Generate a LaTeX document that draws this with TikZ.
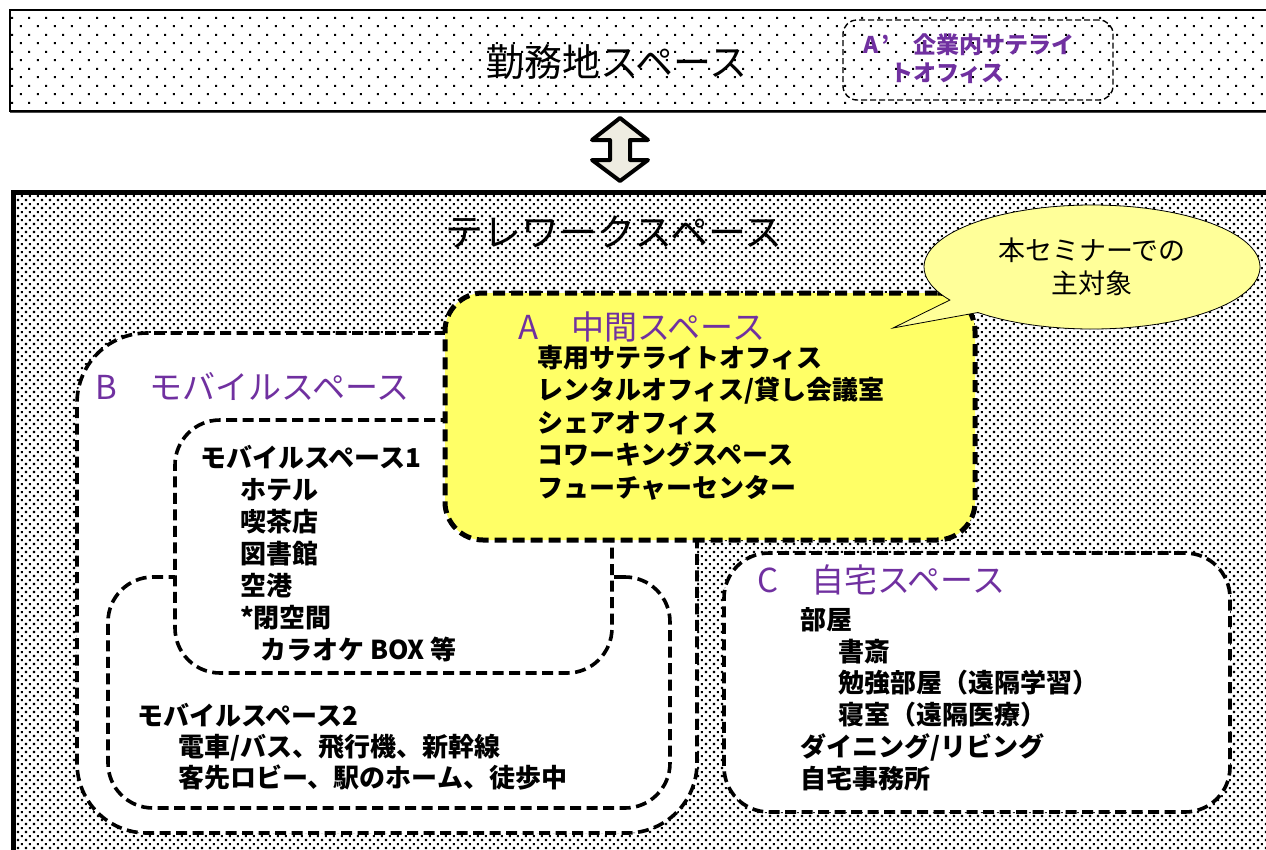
\documentclass[tikz,border=0pt]{standalone}
\usepackage{fontspec}
\setmainfont{Noto Sans CJK JP}
\usetikzlibrary{positioning,patterns.meta,shapes.callouts}

\definecolor{labelpurple}{HTML}{7030A0}
\definecolor{midyellow}{HTML}{FFFF66}
\definecolor{bubbleyellow}{HTML}{FFFF99}
\definecolor{arrowgrey}{HTML}{EEECE1}

\tikzdeclarepattern{
  name=sparsedots,
  type=uncolored,
  bounding box={(0pt,0pt) and (16.7pt,16.7pt)},
  tile size={(16.7pt,16.7pt)},
  code={
    \pgfpathrectangle{\pgfpoint{3pt}{3pt}}{\pgfpoint{1.9pt}{1.9pt}}
    \pgfpathrectangle{\pgfpoint{11.35pt}{11.35pt}}{\pgfpoint{1.9pt}{1.9pt}}
    \pgfusepath{fill}
  }
}
\tikzdeclarepattern{
  name=densedots,
  type=uncolored,
  bounding box={(0pt,0pt) and (8.3pt,8.3pt)},
  tile size={(8.3pt,8.3pt)},
  code={
    \pgfpathrectangle{\pgfpoint{1pt}{1pt}}{\pgfpoint{2.3pt}{2.3pt}}
    \pgfpathrectangle{\pgfpoint{5.15pt}{5.15pt}}{\pgfpoint{2.3pt}{2.3pt}}
    \pgfusepath{fill}
  }
}

\begin{document}
\begin{tikzpicture}[x=1pt, y=-1pt,
  spacebox/.style = {draw, line width=3.6pt, dash pattern=on 11pt off 5.5pt, rounded corners=45pt, fill=white, inner sep=0pt},
  midbox/.style = {spacebox, line width=5pt, dash pattern=on 12pt off 6pt, rounded corners=38pt, fill=midyellow},
  bigtitle/.style = {font=\fontsize{38}{40}\selectfont},
  head/.style = {anchor=west, inner sep=0pt, text=labelpurple, font=\fontsize{33}{36}\selectfont},
  items/.style = {anchor=north west, inner sep=0pt, align=left, font=\bfseries\fontsize{26}{32.5}\selectfont}]
\useasboundingbox (0,0) rectangle (1266,849);

% work space
\node[draw, line width=1.2pt, pattern=sparsedots, minimum width=1290, minimum height=101, inner sep=0pt] (work) at (655,60.5) {};
\draw[line width=1.5pt, black!70] (10,112.5) -- (1300,112.5);
\node[bigtitle] (worklabel) at (617,62) {勤務地スペース};
\node[draw, line width=1.4pt, dash pattern=on 6pt off 3pt, rounded corners=14pt, minimum width=270, minimum height=80, inner sep=0pt] (satellite) at (978,60) {};
\node[anchor=north west, inner sep=0pt, align=left, text=labelpurple, font=\bfseries\fontsize{23}{28}\selectfont] (satlabel) at (863,33) {A\hspace{3pt}’\hspace{24pt}企業内サテライ\\\hspace*{27pt}トオフィス};

% double arrow
\draw[line width=4pt, line join=round, fill=arrowgrey]
  (620,118) -- (648,140) -- (630,140) -- (630,160) -- (648,160) -- (620,181)
  -- (592,160) -- (610,160) -- (610,140) -- (592,140) -- cycle;

% telework space
\node[draw, line width=4.5pt, pattern=densedots, minimum width=1300, minimum height=700, inner sep=0pt, anchor=north west] (tele) at (11,190) {};
\node[bigtitle] (telelabel) at (614,232) {テレワークスペース};

% B mobile space
\node[spacebox, rounded corners=70pt, minimum width=620, minimum height=500] (mobile) at (387,583) {};
\node[spacebox, minimum width=562, minimum height=231] (mobiletwo) at (389,692.5) {};
\node[spacebox, minimum width=437, minimum height=253] (mobileone) at (393.5,546.5) {};

% A middle space
\node[midbox, minimum width=530, minimum height=247] (middle) at (710,416.5) {};

% C home space
\node[spacebox, minimum width=506, minimum height=259] (home) at (977,682.5) {};

% callout
\coordinate (tip) at (893,328);
\node[ellipse callout, draw, line width=0.8pt, fill=bubbleyellow, minimum width=336, minimum height=124,
  callout absolute pointer={(tip)}, align=center, font=\fontsize{27}{33}\selectfont] (bubble) at (1092,267) {本セミナーでの\\主対象};

% labels
\node[head] (midtitle) at (518,327) {A　中間スペース};
\node[items] (midlist) at (537,345) {専用サテライトオフィス\\レンタルオフィス/貸し会議室\\シェアオフィス\\コワーキングスペース\\フューチャーセンター};

\node[head] (mobiletitle) at (95,386) {B　モバイルスペース};
\node[items, font=\bfseries\fontsize{26}{32}\selectfont] (onelist) at (200,445) {モバイルスペース1\\\hspace*{40pt}ホテル\\\hspace*{40pt}喫茶店\\\hspace*{40pt}図書館\\\hspace*{40pt}空港\\\hspace*{40pt}*閉空間\\\hspace*{60pt}カラオケ BOX 等};
\node[items, font=\bfseries\fontsize{26}{31}\selectfont] (twolist) at (137,703) {モバイルスペース2\\\hspace*{41pt}電車/バス、飛行機、新幹線\\\hspace*{41pt}客先ロビー、駅のホーム、徒歩中};

\node[head] (hometitle) at (757,580) {C　自宅スペース};
\node[items, font=\bfseries\fontsize{26}{31.8}\selectfont] (homelist) at (800,607) {部屋\\\hspace*{38pt}書斎\\\hspace*{38pt}勉強部屋（遠隔学習）\\\hspace*{38pt}寝室（遠隔医療）\\ダイニング/リビング\\自宅事務所};
\end{tikzpicture}
\end{document}
